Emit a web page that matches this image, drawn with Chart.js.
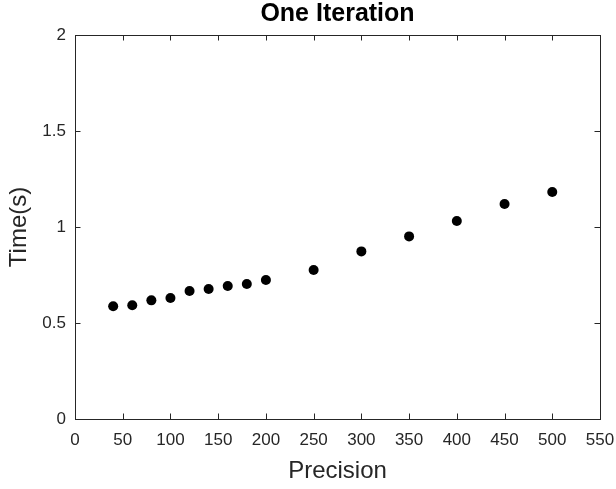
<!DOCTYPE html>
<html>
<head>
<meta charset="utf-8">
<script src="https://cdn.jsdelivr.net/npm/chart.js@4/dist/chart.umd.min.js"></script>
<style>
  html, body { margin: 0; padding: 0; background: #fff; }
  #chart-iter { display: block; }
</style>
</head>
<body>
<canvas id="chart-iter" width="616" height="489"></canvas>
<script>
// data
const precision = [40, 60, 80, 100, 120, 140, 160, 180, 200, 250, 300, 350, 400, 450, 500];
const timeSec = [0.587, 0.592, 0.618, 0.630, 0.667, 0.677, 0.693, 0.703, 0.724, 0.776, 0.873, 0.951, 1.031, 1.120, 1.182];
const xTicks = [0, 50, 100, 150, 200, 250, 300, 350, 400, 450, 500, 550];
const yTicks = [0, 0.5, 1, 1.5, 2];

document.addEventListener('DOMContentLoaded', function () {
  const FONT = '"Liberation Sans", Arial, Helvetica, sans-serif';
  const AXIS_COLOR = '#262626';
  const TICK_LEN = 5.5;

  // matlab style box with inward ticks on all four sides
  const boxPlugin = {
    id: 'matlabBox',
    afterDraw(chart) {
      const { ctx, chartArea: a, scales } = chart;
      ctx.save();
      ctx.strokeStyle = AXIS_COLOR;
      ctx.lineWidth = 1;
      ctx.strokeRect(a.left + 0.5, a.top + 0.5, a.right - a.left, a.bottom - a.top);
      ctx.beginPath();
      xTicks.forEach((v) => {
        const x = Math.round(scales.x.getPixelForValue(v)) + 0.5;
        ctx.moveTo(x, a.bottom);
        ctx.lineTo(x, a.bottom - TICK_LEN);
        ctx.moveTo(x, a.top);
        ctx.lineTo(x, a.top + TICK_LEN);
      });
      yTicks.forEach((v) => {
        const y = Math.round(scales.y.getPixelForValue(v)) + 0.5;
        ctx.moveTo(a.left, y);
        ctx.lineTo(a.left + TICK_LEN, y);
        ctx.moveTo(a.right, y);
        ctx.lineTo(a.right - TICK_LEN, y);
      });
      ctx.stroke();
      ctx.restore();
    },
  };

  new Chart(document.getElementById('chart-iter'), {
    type: 'scatter',
    data: {
      datasets: [
        {
          label: 'Time',
          data: precision.map((p, i) => ({ x: p, y: timeSec[i] })),
          backgroundColor: '#000',
          borderColor: '#000',
          pointRadius: 5,
          pointBorderWidth: 0,
        },
      ],
    },
    options: {
      responsive: false,
      animation: false,
      layout: { padding: { left: 0, right: 16, top: 0, bottom: 0 } },
      scales: {
        x: {
          type: 'linear',
          min: 0,
          max: 550,
          afterBuildTicks: (scale) => { scale.ticks = xTicks.map((v) => ({ value: v })); },
          afterFit: (scale) => {
            scale.height = 70;
            scale.paddingLeft = 0;
            scale.paddingRight = 0;
          },
          border: { display: false },
          grid: { drawOnChartArea: false, drawTicks: false },
          ticks: { color: AXIS_COLOR, font: { family: FONT, size: 17 }, padding: 11, maxRotation: 0 },
          title: {
            display: true,
            text: 'Precision',
            color: AXIS_COLOR,
            font: { family: FONT, size: 24, lineHeight: 1.2 },
            padding: { top: 0, bottom: 3 },
          },
        },
        y: {
          type: 'linear',
          min: 0,
          max: 2,
          afterBuildTicks: (scale) => { scale.ticks = yTicks.map((v) => ({ value: v })); },
          afterFit: (scale) => { scale.width = 75; },
          border: { display: false },
          grid: { drawOnChartArea: false, drawTicks: false },
          ticks: {
            color: AXIS_COLOR,
            font: { family: FONT, size: 17 },
            padding: 9,
            callback: (value) => String(value),
          },
          title: {
            display: true,
            text: 'Time(s)',
            color: AXIS_COLOR,
            font: { family: FONT, size: 24, lineHeight: 1.2 },
            padding: { top: 5, bottom: 0 },
          },
        },
      },
      plugins: {
        legend: { display: false },
        tooltip: { enabled: false },
        title: {
          display: true,
          text: 'One Iteration',
          fullSize: false,
          color: '#000',
          font: { family: FONT, size: 25, weight: 'bold', lineHeight: 1 },
          padding: { top: 2, bottom: 8 },
        },
      },
    },
    plugins: [boxPlugin],
  });
});
</script>
</body>
</html>
